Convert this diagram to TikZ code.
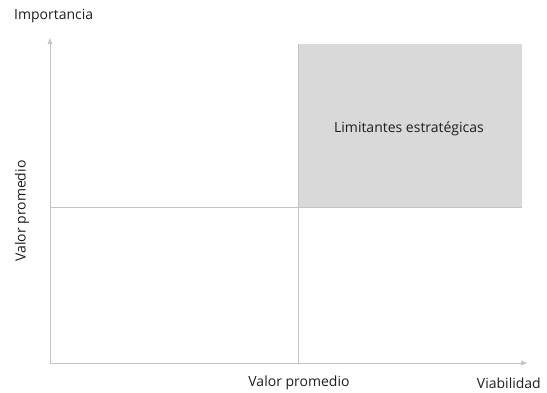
\documentclass[tikz,border=0pt]{standalone}
\usepackage{fontspec}
\setmainfont{Open Sans}
\usetikzlibrary{arrows.meta}
\definecolor{axisgray}{HTML}{C4C4C4}
\definecolor{boxgray}{HTML}{D9D9D9}
\definecolor{txt}{HTML}{1E1E1E}
\begin{document}
\begin{tikzpicture}[x=1pt,y=-1pt,
  axis/.style={draw=axisgray,line width=0.9pt,-{Triangle[length=6pt,width=4.5pt]}},
  gline/.style={draw=axisgray,line width=0.9pt},
  lbl/.style={text=txt,font=\fontsize{14}{16}\selectfont,inner sep=0pt}]
\useasboundingbox (0,0) rectangle (547,392);
\fill[boxgray] (298,44) rectangle (522,207);
\coordinate (o) at (50,363);
\coordinate (ytop) at (50,38);
\coordinate (xend) at (527,363);
\coordinate (ml) at (50,207);
\coordinate (mr) at (522,207);
\coordinate (vt) at (298,44);
\coordinate (vb) at (298,363);
\draw[gline] (ml) -- (mr);
\draw[gline] (vt) -- (vb);
\draw[axis] (o) -- (ytop);
\draw[axis] (o) -- (xend);
\node[lbl,anchor=west] (imp) at (14,16) {Importancia};
\node[lbl,anchor=east] (via) at (541,383) {Viabilidad};
\node[lbl] (vpx) at (299,383) {Valor promedio};
\node[lbl,rotate=90] (vpy) at (22,211) {Valor promedio};
\node[lbl] (lim) at (409,129) {Limitantes estratégicas};
\end{tikzpicture}
\end{document}
